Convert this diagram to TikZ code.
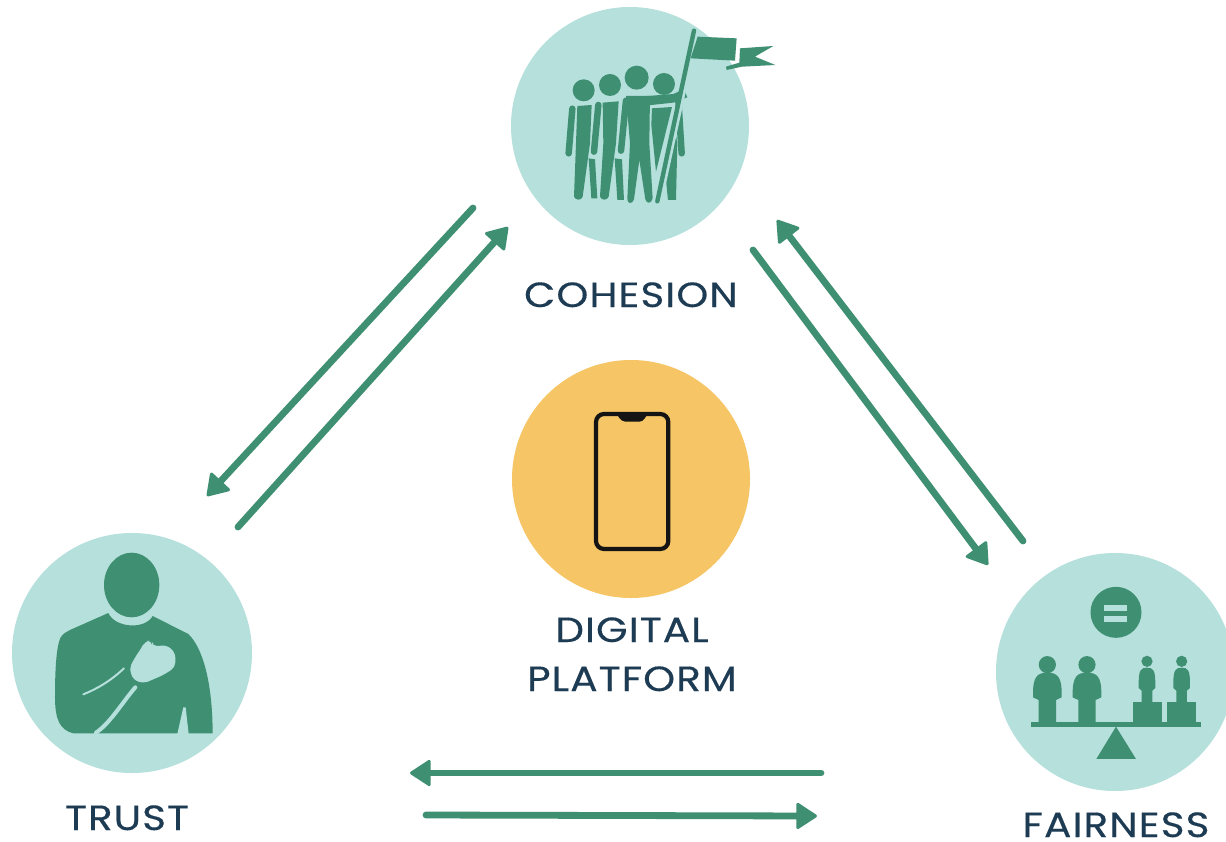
\documentclass[tikz,border=0pt]{standalone}
\usepackage{fontspec}
\setmainfont[LetterSpace=3,FakeStretch=1.16,FakeBold=0.3]{Poppins}
\usetikzlibrary{arrows.meta}
\definecolor{lightteal}{HTML}{B5E0DB}
\definecolor{icongreen}{HTML}{3F8F73}
\definecolor{sun}{HTML}{F6C566}
\definecolor{navy}{HTML}{1D3B53}
\tikzset{
  disc/.style={circle,minimum size=#1,inner sep=0pt,draw=none},
  label text/.style={text=navy,font=\fontsize{35}{49}\selectfont,inner sep=0pt,anchor=base},
  flow/.style={draw=icongreen,line width=6.8pt,line cap=round,-{Triangle[length=22pt,width=28pt,round,line width=3pt]}},
  ink/.style={fill=icongreen,draw=none},
  limb/.style={draw=icongreen,line width=6.5pt,line cap=round},
}
\begin{document}
\begin{tikzpicture}[x=1pt,y=-1pt]
\useasboundingbox (0,0) rectangle (1226,841);
\fill[white] (0,0) rectangle (1226,841);
% discs
\node[disc=238pt,fill=lightteal] (cohesion) at (630,126) {};
\node[disc=238pt,fill=sun] (platform) at (631,479) {};
\node[disc=240pt,fill=lightteal] (trust) at (132,653) {};
\node[disc=238pt,fill=lightteal] (fairness) at (1115,672) {};
% labels
\node[label text] (lc) at (631,307) {COHESION};
\node[label text] (lp1) at (632,642) {DIGITAL};
\node[label text] (lp2) at (632,691) {PLATFORM};
\node[label text] (lt) at (127,830) {TRUST};
\node[label text] (lf) at (1116,837) {FAIRNESS};
% arrow ends
\coordinate (a1) at (473,208); \coordinate (a2) at (207,496);
\coordinate (b1) at (238,527); \coordinate (b2) at (508,227);
\coordinate (c1) at (753,250); \coordinate (c2) at (988,565);
\coordinate (d1) at (1023,541); \coordinate (d2) at (777,220);
\coordinate (e1) at (821,773); \coordinate (e2) at (410,773);
\coordinate (f1) at (426,815); \coordinate (f2) at (817,816);
\draw[flow] (a1) -- (a2);
\draw[flow] (b1) -- (b2);
\draw[flow] (c1) -- (c2);
\draw[flow] (d1) -- (d2);
\draw[flow] (e1) -- (e2);
\draw[flow] (f1) -- (f2);
% phone
\begin{scope}[shift={(570,395)},x=0.3333pt,y=-0.3333pt]
\draw[black!92,line width=4.2pt,rounded corners=8pt] (78,57) rectangle (295,462);
\fill[black!92] (140,55) .. controls (152,80) and (160,80) .. (175,80) -- (200,80) .. controls (215,80) and (222,80) .. (232,55) -- cycle;
\end{scope}
% cohesion icon
\begin{scope}[shift={(540,10)},x=0.3333pt,y=-0.3333pt]
\fill[icongreen] (131,241) circle (11pt);
\fill[icongreen] (210,225) circle (11pt);
\fill[icongreen] (290,203) circle (12pt);
\fill[icongreen] (372,222) circle (11pt);
% person 1
\draw[limb] (97,296) -- (86,430);
\fill[ink] (112,288) -- (155,285) -- (150,400) -- (128,560) .. controls (125,572) and (106,572) .. (102,560) -- (108,400) -- cycle;
\fill[ink] (146,445) -- (165,448) -- (172,565) -- (154,565) -- cycle;
% person 2
\draw[limb] (175,285) -- (162,425);
\fill[ink] (188,278) -- (236,274) -- (228,400) -- (206,560) .. controls (202,572) and (184,572) .. (180,560) -- (190,400) -- cycle;
\fill[ink] (224,445) -- (246,448) -- (252,570) -- (232,570) -- cycle;
% person 4
\draw[limb] (415,270) -- (425,430);
\fill[ink] (336,295) -- (396,291) -- (348,485) -- (334,345) -- cycle;
\fill[ink] (402,340) -- (412,400) -- (408,570) -- (384,570) -- (376,490) -- cycle;
% person 3
\draw[limb] (258,272) -- (243,422);
\fill[ink] (258,258) -- (330,258) -- (328,400) -- (338,565) .. controls (334,582) and (320,582) .. (316,568) -- (298,450) -- (282,568) .. controls (278,584) and (260,582) .. (262,565) -- (270,400) -- cycle;
\fill[ink] (322,258) -- (400,252) -- (432,238) -- (442,262) -- (400,278) -- (325,286) -- cycle;
% pole and flag
\draw[draw=lightteal,line width=5.6pt] (445,170) -- (358,575);
\draw[icongreen,line width=4.4pt,line cap=round] (462,62) -- (352,574);
\fill[ink] (473,80) -- (590,85) -- (585,152) -- (452,145) -- cycle;
\fill[ink] (600,115) -- (700,108) -- (645,140) -- (706,165) -- (606,170) -- (560,180) -- (558,170) -- (598,158) -- cycle;
\end{scope}
% trust icon
\begin{scope}[shift={(20,540)},x=0.3333pt,y=-0.3333pt]
\fill[icongreen] (335,135) ellipse [x radius=83,y radius=97];
\fill[ink] (265,219) .. controls (285,264) and (375,270) .. (398,228)
  -- (505,282) .. controls (555,330) and (578,450) .. (578,580)
  -- (160,580) .. controls (120,570) and (105,540) .. (105,470)
  .. controls (105,400) and (108,320) .. (122,292) .. controls (130,280) and (140,275) .. (150,270) -- cycle;
\fill[lightteal,rounded corners=5pt] (328,385) -- (345,352) -- (362,328) -- (375,303) -- (395,302) -- (398,320) -- (440,315) -- (466,338) -- (466,382) -- (430,405) -- (372,430) -- (340,420) -- cycle;
\draw[lightteal,line width=2pt,line cap=round] (190,463) .. controls (235,445) and (275,420) .. (312,385);
\draw[lightteal,line width=4pt,line cap=round] (228,578) .. controls (270,550) and (305,490) .. (346,442);
\fill[lightteal] (472,582) -- (490,502) -- (497,502) -- (506,582) -- cycle;
\end{scope}
% fairness icon
\begin{scope}[shift={(1010,580)},x=0.3333pt,y=-0.3333pt]
\fill[icongreen] (318,97) circle (25.5pt);
\fill[lightteal] (283,74) rectangle (351,93);
\fill[lightteal] (283,107) rectangle (351,126);
\fill[ink] (62,425) rectangle (573,442);
\fill[ink] (318,440) -- (378,537) -- (259,537) -- cycle;
% tall figures
\foreach \cx in {112,231}{
  \fill[icongreen] (\cx,254) circle (8.6pt);
  \fill[ink] (\cx-43,345) .. controls (\cx-44,290) and (\cx-30,278) .. (\cx,278)
    .. controls (\cx+30,278) and (\cx+44,290) .. (\cx+43,345)
    -- (\cx+43,352) -- (\cx+26,360) -- (\cx+26,430) -- (\cx-26,430) -- (\cx-26,360) -- (\cx-43,352) -- cycle;
}
% short figures on blocks
\foreach \cx/\bl in {411/370,515/472}{
  \fill[icongreen] (\cx,244) circle (5.6pt);
  \fill[ink] (\cx-25,310) .. controls (\cx-25,270) and (\cx-18,263) .. (\cx,263)
    .. controls (\cx+18,263) and (\cx+25,270) .. (\cx+25,310)
    -- (\cx+25,324) -- (\cx+16,332) -- (\cx+16,370) -- (\cx-16,370) -- (\cx-16,332) -- (\cx-25,324) -- cycle;
  \fill[ink] (\bl,366) rectangle (\bl+86,430);
}
\end{scope}
\end{tikzpicture}
\end{document}
